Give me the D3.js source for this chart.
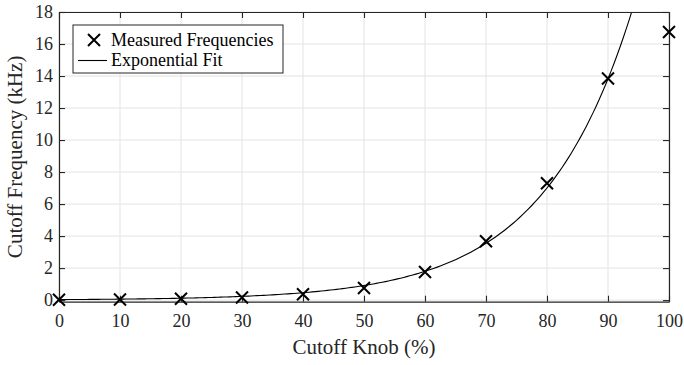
<!DOCTYPE html>
<html><head><meta charset="utf-8">
<script src="https://cdn.jsdelivr.net/npm/d3@7"></script>
<style>
body{margin:0;background:#fff;}
svg text{font-family:'Liberation Serif','Times New Roman',serif !important;}
</style></head>
<body><svg id="c" width="684" height="365"></svg>
<script>
const knob = [0,10,20,30,40,50,60,70,80,90,100];
const measured = [0.02,0.04,0.08,0.16,0.37,0.76,1.76,3.68,7.3,13.85,16.75];
const fitA = 0.0304, fitB = 0.068; // exponential fit coefficients f = a*exp(b*x)
const xTicks = [0,10,20,30,40,50,60,70,80,90,100];
const yTicks = [0,2,4,6,8,10,12,14,16,18];

const SERIF = "'Liberation Serif','Times New Roman',serif";
const svg = d3.select("#c").attr("font-family",SERIF);
const L=59,T=12,W=610,H=289.7;
const x = d3.scaleLinear().domain([0,100]).range([L,L+W]);
const y = d3.scaleLinear().domain([-0.1,18]).range([T+H,T]);
const axc = "#262626";

// grid
const g = svg.append("g");
g.selectAll(".gx").data(xTicks).join("line").attr("x1",d=>x(d)).attr("x2",d=>x(d)).attr("y1",T).attr("y2",T+H).attr("stroke","#e3e3e3").attr("stroke-width",1);
g.selectAll(".gy").data(yTicks).join("line").attr("x1",L).attr("x2",L+W).attr("y1",d=>y(d)).attr("y2",d=>y(d)).attr("stroke","#e3e3e3").attr("stroke-width",1);

// fit curve
svg.append("clipPath").attr("id","clip").append("rect").attr("x",L).attr("y",T).attr("width",W).attr("height",H);
const fitX = d3.range(0,100.01,0.5);
svg.append("path").datum(fitX).attr("clip-path","url(#clip)")
  .attr("d",d3.line().x(d=>x(d)).y(d=>y(fitA*Math.exp(fitB*d))))
  .attr("fill","none").attr("stroke","#000").attr("stroke-width",1.1);

// axes
function styleAxis(sel){
  sel.attr("font-family",SERIF).attr("font-size",18);
  sel.select(".domain").attr("stroke",axc).attr("stroke-width",1.2);
  sel.selectAll(".tick line").attr("stroke",axc).attr("stroke-width",1.1);
  sel.selectAll(".tick text").attr("fill",axc);
}
styleAxis(svg.append("g").attr("transform",`translate(0,${T+H})`).call(d3.axisBottom(x).tickValues(xTicks).tickSize(-6).tickSizeOuter(0).tickPadding(12.5)));
styleAxis(svg.append("g").attr("transform",`translate(0,${T})`).call(d3.axisTop(x).tickValues(xTicks).tickSize(-6).tickSizeOuter(0).tickFormat("")));
styleAxis(svg.append("g").attr("transform",`translate(${L},0)`).call(d3.axisLeft(y).tickValues(yTicks).tickSize(-6).tickSizeOuter(0).tickPadding(6)));
styleAxis(svg.append("g").attr("transform",`translate(${L+W},0)`).call(d3.axisRight(y).tickValues(yTicks).tickSize(-6).tickSizeOuter(0).tickFormat("")));

// markers
const cs = 6;
function cross(sel,cx,cy){
  sel.append("path").attr("d",`M${cx-cs},${cy-cs}L${cx+cs},${cy+cs}M${cx-cs},${cy+cs}L${cx+cs},${cy-cs}`)
    .attr("stroke","#000").attr("stroke-width",2).attr("fill","none");
}
const mg = svg.append("g");
knob.forEach((k,i)=>cross(mg,x(k),y(measured[i])));

// legend
const lg = svg.append("g");
lg.append("rect").attr("x",73).attr("y",25).attr("width",210).attr("height",48).attr("fill","#fff").attr("stroke",axc).attr("stroke-width",1);
cross(lg,94,40);
lg.append("line").attr("x1",78).attr("x2",107).attr("y1",60.5).attr("y2",60.5).attr("stroke","#000").attr("stroke-width",1.1);
lg.append("text").attr("x",111).attr("y",46).text("Measured Frequencies").attr("font-size",18).attr("fill","#000");
lg.append("text").attr("x",111).attr("y",66).text("Exponential Fit").attr("font-size",18).attr("fill","#000");

// axis labels
svg.append("text").attr("x",x(50)).attr("y",354).attr("text-anchor","middle").attr("font-size",21).attr("fill",axc).text("Cutoff Knob (%)");
svg.append("text").attr("transform",`translate(22,${T+H/2}) rotate(-90)`).attr("text-anchor","middle").attr("font-size",21).attr("fill",axc).text("Cutoff Frequency (kHz)");
</script></body></html>
